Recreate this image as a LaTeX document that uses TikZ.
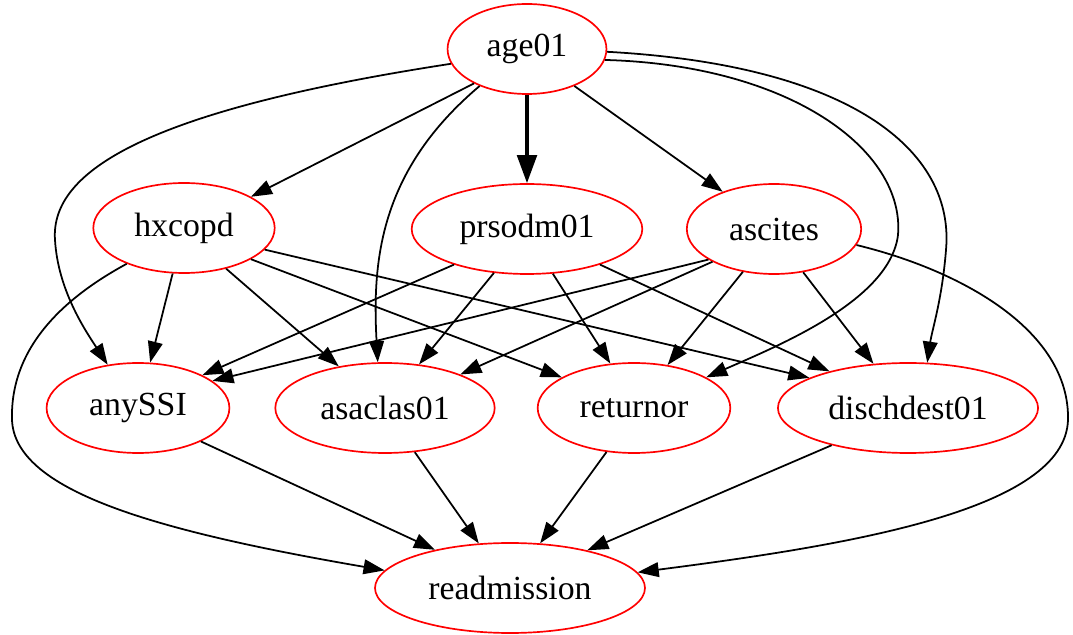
\documentclass[tikz,border=0pt]{standalone}
\usepackage{fontspec}
\setmainfont{Liberation Serif}
\usetikzlibrary{shapes.geometric,arrows.meta}

\begin{document}
\begin{tikzpicture}[x=0.025cm,y=-0.025cm,
  var/.style={ellipse,draw=red,line width=1.2pt,inner sep=0pt,minimum height=64pt,
    font=\fontsize{24}{28}\selectfont},
  link/.style={line width=1.25pt,-{Triangle[length=15pt,width=10.5pt]}}]
\useasboundingbox (0,0) rectangle (1073,635);

% variables
\node[var,minimum width=113pt] (age01) at (527,49) {age01};
\node[var,minimum width=129pt] (hxcopd) at (184,228) {hxcopd};
\node[var,minimum width=164pt] (prsodm01) at (527,229) {prsodm01};
\node[var,minimum width=124pt] (ascites) at (774,229) {ascites};
\node[var,minimum width=130pt] (anySSI) at (138,408) {anySSI};
\node[var,minimum width=156pt] (asaclas01) at (385,408) {asaclas01};
\node[var,minimum width=137pt] (returnor) at (634,408) {returnor};
\node[var,minimum width=185pt] (dischdest01) at (908,408) {dischdest01};
\node[var,minimum width=192pt] (readmission) at (510,588) {readmission};

% age01
\draw[link] (age01.213) -- (hxcopd.25);
\draw[line width=2.4pt,-{Triangle[length=20pt,width=14pt]}] (age01.south) -- (prsodm01.north);
\draw[link] (age01.322) -- (ascites.144);
\draw[link] (age01.191) .. controls (150,110) and (50,170) .. (55,240)
  .. controls (58,290) and (85,330) .. (anySSI.125);
\draw[link] (age01.218) .. controls (380,170) and (372,260) .. (asaclas01.99);
\draw[link] (age01.352) .. controls (790,65) and (905,150) .. (898,235)
  .. controls (890,300) and (780,345) .. (returnor.23);
\draw[link] (age01.358) .. controls (850,65) and (955,150) .. (946,250)
  .. controls (942,300) and (932,330) .. (dischdest01.67);

% hxcopd
\draw[link] (hxcopd.256) -- (anySSI.75);
\draw[link] (hxcopd.316) -- (asaclas01.138);
\draw[link] (hxcopd.335) -- (returnor.157);
\draw[link] (hxcopd.345) -- (dischdest01.163);
\draw[link] (hxcopd.212) .. controls (60,300) and (10,350) .. (12,420)
  .. controls (15,490) and (150,530) .. (readmission.172);

% prsodm01
\draw[link] (prsodm01.206) -- (anySSI.27);
\draw[link] (prsodm01.233) -- (asaclas01.52);
\draw[link] (prsodm01.300) -- (returnor.118);
\draw[link] (prsodm01.334) -- (dischdest01.155);

% ascites
\draw[link] (ascites.205) -- (anySSI.20);
\draw[link] (ascites.208) -- (asaclas01.24);
\draw[link] (ascites.234) -- (returnor.52);
\draw[link] (ascites.304) -- (dischdest01.128);
\draw[link] (ascites.349) .. controls (960,270) and (1070,330) .. (1068,420)
  .. controls (1065,510) and (850,545) .. (readmission.7);

% into readmission
\draw[link] (anySSI.332) -- (readmission.153);
\draw[link] (asaclas01.304) -- (readmission.125);
\draw[link] (returnor.238) -- (readmission.56);
\draw[link] (dischdest01.206) -- (readmission.26);
\end{tikzpicture}
\end{document}
